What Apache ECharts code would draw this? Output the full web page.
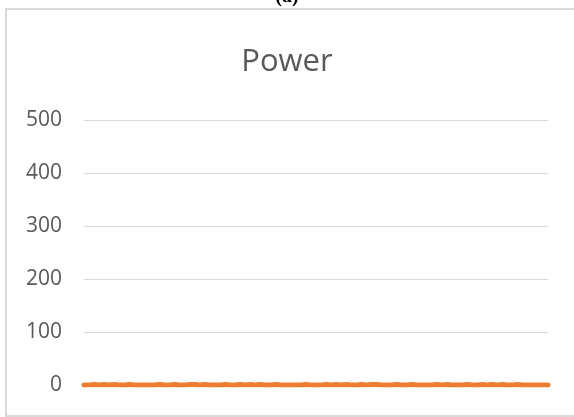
<!DOCTYPE html>
<html><head><meta charset="utf-8">
<script src="https://cdn.jsdelivr.net/npm/echarts@6/dist/echarts.min.js"></script>
<style>html,body{margin:0;padding:0;background:#fff}#c{width:574px;height:417px}</style>
</head><body><div id="c"></div>
<script>
var titleText = "Power";
var panelLabel = "(a)";
var yTicks = [0, 100, 200, 300, 400, 500];
var categories = [];
for (var i = 1; i <= 93; i++) categories.push(String(i));
var powerValues = [0,0,1,0,1,0,1,0,0,1,0,0,0,0,0,1,0,0,1,0,0,1,1,0,1,0,0,0,1,0,0,1,0,1,0,1,0,0,1,0,0,0,0,0,1,0,0,0,1,0,1,0,1,0,0,1,0,1,1,0,0,0,1,0,0,1,0,0,0,0,1,0,1,0,0,0,1,0,0,1,0,1,0,1,0,0,1,0,0,0,0,0,0];

var chart = echarts.init(document.getElementById('c'), null, {renderer: 'canvas'});
chart.setOption({
  animation: false,
  backgroundColor: '#fff',
  title: {
    text: titleText, left: 'center', top: 42,
    textStyle: {fontFamily: 'Open Sans', fontWeight: 'normal', fontSize: 31, color: '#595959'}
  },
  graphic: [
    {type: 'rect', shape: {x: 6, y: 9, width: 600, height: 407}, style: {fill: 'none', stroke: '#d9d9d9', lineWidth: 2}, z: 100},
    {type: 'text', left: 'center', top: -13, style: {text: panelLabel, font: 'bold 20px "Liberation Serif"', fill: '#000'}}
  ],
  grid: {left: 84, right: 26, top: 120, bottom: 32, containLabel: false},
  xAxis: {
    type: 'category', data: categories, boundaryGap: false,
    axisLine: {show: false}, axisTick: {show: false}, axisLabel: {show: false}, splitLine: {show: false}
  },
  yAxis: {
    type: 'value', min: yTicks[0], max: yTicks[yTicks.length - 1], interval: 100,
    axisLine: {show: false}, axisTick: {show: false},
    axisLabel: {margin: 22, fontFamily: 'Open Sans', fontSize: 21, color: '#595959'},
    splitLine: {lineStyle: {color: '#d9d9d9', width: 1}}
  },
  series: [{
    type: 'line', data: powerValues, showSymbol: false, symbol: 'none',
    lineStyle: {color: '#ed7d31', width: 5, cap: 'round'}
  }]
});
</script></body></html>
